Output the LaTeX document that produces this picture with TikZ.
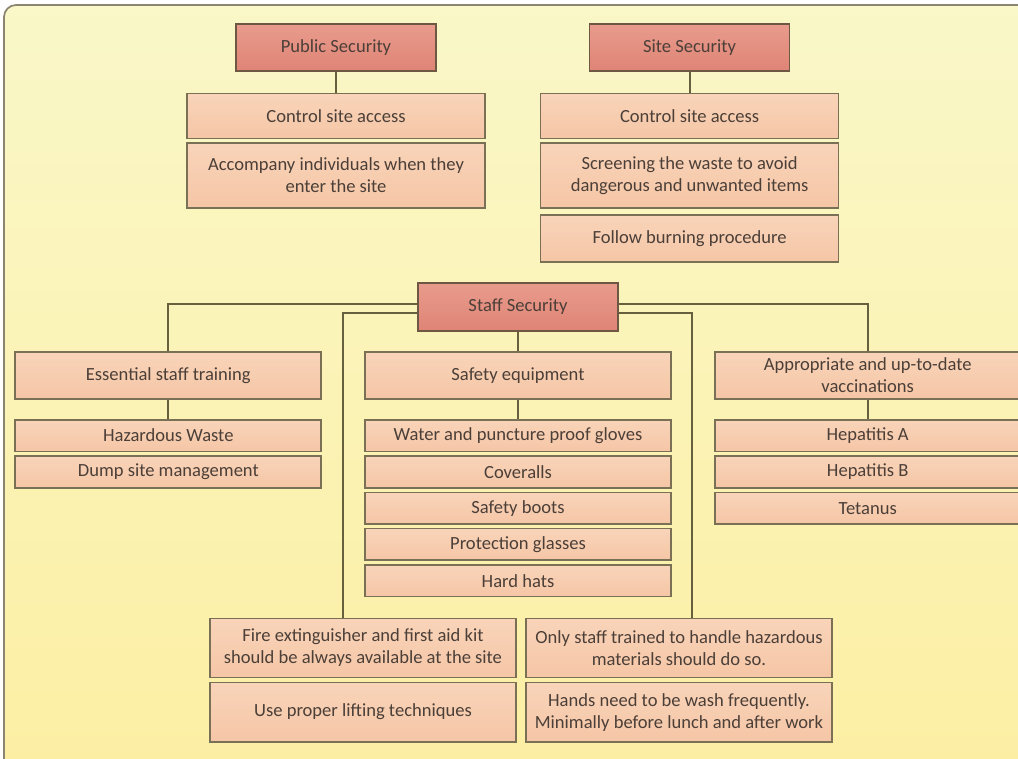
\documentclass[tikz,border=0pt]{standalone}
\usepackage{fontspec}
\setmainfont{Carlito}
\usetikzlibrary{positioning, calc}
\definecolor{BoardTop}{HTML}{FAF7C8}
\definecolor{BoardBottom}{HTML}{FCEFA3}
\definecolor{FrameGray}{HTML}{8A8470}
\definecolor{HeadRed}{HTML}{DF8476}
\definecolor{HeadRedLight}{HTML}{E89B8C}
\definecolor{HeadEdge}{HTML}{6F5843}
\definecolor{ItemPeach}{HTML}{F5C6A6}
\definecolor{ItemPeachLight}{HTML}{F9D4B9}
\definecolor{ItemEdge}{HTML}{7A7055}
\definecolor{LinkOlive}{HTML}{66603F}
\definecolor{InkBrown}{HTML}{4B3F38}
\tikzset{
  headbox/.style={draw=HeadEdge, line width=1.2pt, top color=HeadRedLight, bottom color=HeadRed, align=center, minimum width=5cm, minimum height=1.175cm, inner sep=2pt, text=InkBrown, font=\fontsize{13.2}{15.6}\selectfont},
  itembox/.style={draw=ItemEdge, line width=1.2pt, top color=ItemPeachLight, bottom color=ItemPeach, align=center, minimum width=7.45cm, minimum height=1.125cm, inner sep=2pt, text=InkBrown, font=\fontsize{13.2}{15.6}\selectfont},
  midbox/.style={itembox, minimum width=7.65cm, minimum height=1.175cm},
  subbox/.style={itembox, minimum width=7.65cm, minimum height=0.79cm},
  notebox/.style={itembox, minimum width=7.65cm, minimum height=1.48cm},
  link/.style={draw=LinkOlive, line width=1.4pt}
}

\begin{document}
\begin{tikzpicture}
\path[use as bounding box] (0,0) rectangle (25.45,-18.975);
\shade[top color=BoardTop, bottom color=BoardBottom, draw=FrameGray, line width=1.2pt, rounded corners=0.3cm] (0.1,-19.6) rectangle (26.1,-0.125);

\node[headbox] (pubsec) at (8.4,-1.19) {Public Security};
\node[itembox, below=0.52cm of pubsec] (pubaccess) {Control site access};
\node[itembox, minimum height=1.63cm, below=0.06cm of pubaccess] (pubescort) {Accompany individuals when they\\enter the site};

\node[headbox] (sitesec) at (17.24,-1.19) {Site Security};
\node[itembox, below=0.52cm of sitesec] (siteaccess) {Control site access};
\node[itembox, minimum height=1.63cm, below=0.06cm of siteaccess] (sitescreen) {Screening the waste to avoid\\dangerous and unwanted items};
\node[itembox, minimum height=1.175cm, below=0.14cm of sitescreen] (siteburn) {Follow burning procedure};

\node[headbox, minimum height=1.2cm] (staffsec) at (12.95,-7.675) {Staff Security};
\node[midbox, below=0.48cm of staffsec] (equip) {Safety equipment};
\node[midbox, left=1.05cm of equip] (training) {Essential staff training};
\node[midbox, right=1.05cm of equip] (vaccine) {Appropriate and up-to-date\\vaccinations};

\node[subbox, below=0.48cm of training] (hazwaste) {Hazardous Waste};
\node[subbox, below=0.075cm of hazwaste] (dumpsite) {Dump site management};

\node[subbox, below=0.48cm of equip] (gloves) {Water and puncture proof gloves};
\node[subbox, below=0.075cm of gloves] (coveralls) {Coveralls};
\node[subbox, below=0.075cm of coveralls] (boots) {Safety boots};
\node[subbox, below=0.075cm of boots] (glasses) {Protection glasses};
\node[subbox, below=0.075cm of glasses] (hardhats) {Hard hats};

\node[subbox, below=0.48cm of vaccine] (hepa) {Hepatitis A};
\node[subbox, below=0.075cm of hepa] (hepb) {Hepatitis B};
\node[subbox, below=0.075cm of hepb] (tetanus) {Tetanus};

\node[notebox] (extinguisher) at (9.075,-16.2) {Fire extinguisher and first aid kit\\should be always available at the site};
\node[notebox, below=0.08cm of extinguisher] (lifting) {Use proper lifting techniques};
\node[notebox] (trained) at (16.975,-16.2) {Only staff trained to handle hazardous\\materials should do so.};
\node[notebox, below=0.08cm of trained] (handwash) {Hands need to be wash frequently.\\Minimally before lunch and after work};

\draw[link] (pubsec) -- (pubaccess);
\draw[link] (sitesec) -- (siteaccess);
\draw[link] (staffsec) -- (equip);
\draw[link] ([yshift=0.075cm]staffsec.west) -| (training);
\draw[link] ([yshift=0.075cm]staffsec.east) -| (vaccine);
\draw[link] ([yshift=-0.15cm]staffsec.west) -| ([xshift=-0.5cm]extinguisher.north);
\draw[link] ([yshift=-0.15cm]staffsec.east) -| ([xshift=0.325cm]trained.north);
\draw[link] (training) -- (hazwaste);
\draw[link] (equip) -- (gloves);
\draw[link] (vaccine) -- (hepa);
\end{tikzpicture}
\end{document}
